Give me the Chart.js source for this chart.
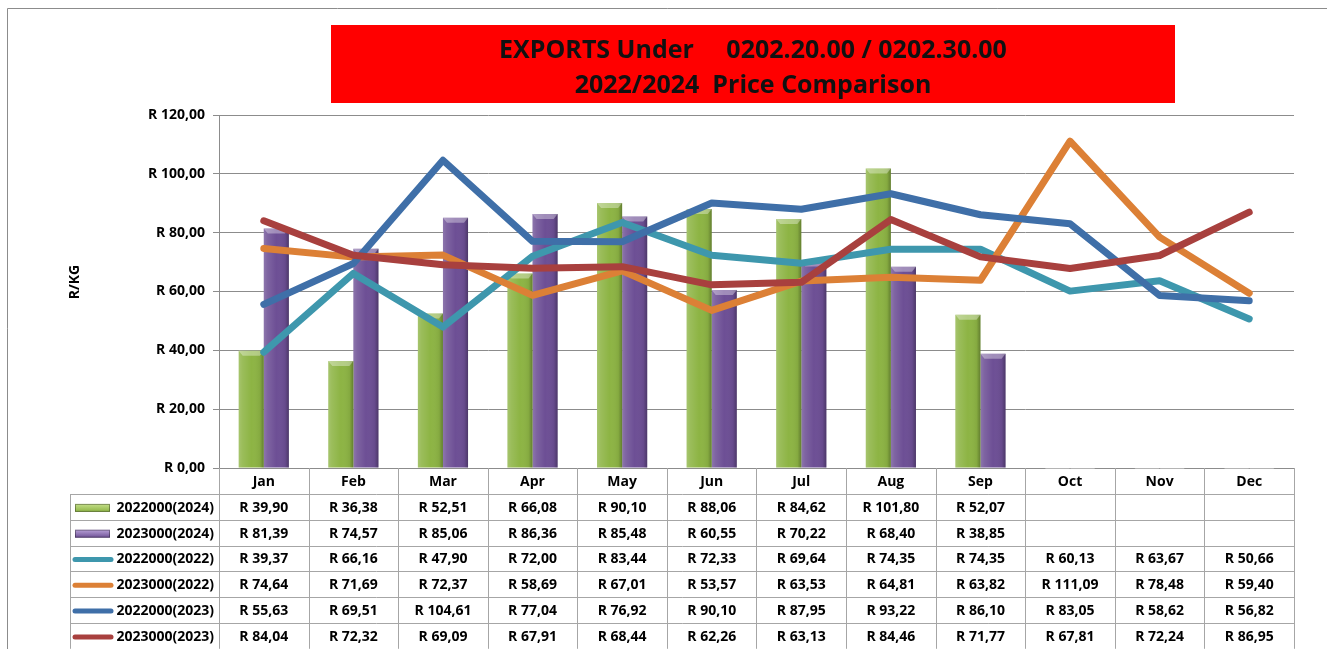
<!DOCTYPE html>
<html>
<head>
<meta charset="utf-8">
<script src="https://cdn.jsdelivr.net/npm/chart.js@4.4.0/dist/chart.umd.min.js"></script>
<style>
  html, body { margin: 0; padding: 0; background: #fff; }
  #wrap { width: 1327px; height: 649px; }
</style>
</head>
<body>
<div id="wrap"><canvas id="myChart" width="1327" height="649"></canvas></div>
<script>
// months along the bottom / table header
const months = ['Jan', 'Feb', 'Mar', 'Apr', 'May', 'Jun', 'Jul', 'Aug', 'Sep', 'Oct', 'Nov', 'Dec'];

// bar series (2024 only up to Sep)
const exp2022_2024 = [39.90, 36.38, 52.51, 66.08, 90.10, 88.06, 84.62, 101.80, 52.07, null, null, null];
const exp2023_2024 = [81.39, 74.57, 85.06, 86.36, 85.48, 60.55, 70.22, 68.40, 38.85, null, null, null];

// line series
const exp2022_2022 = [39.37, 66.16, 47.90, 72.00, 83.44, 72.33, 69.64, 74.35, 74.35, 60.13, 63.67, 50.66];
const exp2023_2022 = [74.64, 71.69, 72.37, 58.69, 67.01, 53.57, 63.53, 64.81, 63.82, 111.09, 78.48, 59.40];
const exp2022_2023 = [55.63, 69.51, 104.61, 77.04, 76.92, 90.10, 87.95, 93.22, 86.10, 83.05, 58.62, 56.82];
const exp2023_2023 = [84.04, 72.32, 69.09, 67.91, 68.44, 62.26, 63.13, 84.46, 71.77, 67.81, 72.24, 86.95];

const seriesNames = ['2022000(2024)', '2023000(2024)', '2022000(2022)', '2023000(2022)', '2022000(2023)', '2023000(2023)'];

const titleLines = ['EXPORTS Under     0202.20.00 / 0202.30.00', '2022/2024  Price Comparison'];
const yAxisTitle = 'R/KG';
const yMin = 0, yMax = 120, yStep = 20;

const FONT = "'Open Sans', 'Noto Sans', sans-serif";

function rand(v) {
  if (v === null || v === undefined) return '';
  return 'R ' + v.toFixed(2).replace('.', ',');
}

// frame, red title box, R/KG label
const framePlugin = {
  id: 'frame',
  beforeDraw(chart) {
    const ctx = chart.ctx;
    ctx.save();
    ctx.fillStyle = '#fff';
    ctx.fillRect(0, 0, chart.width, chart.height);
    ctx.strokeStyle = '#8c8c8c';
    ctx.lineWidth = 1;
    ctx.beginPath();
    ctx.moveTo(7.5, chart.height);
    ctx.lineTo(7.5, 8.5);
    ctx.lineTo(chart.width, 8.5);
    ctx.stroke();

    ctx.fillStyle = '#ff0000';
    ctx.fillRect(331, 25, 844, 78);
    ctx.fillStyle = '#111';
    ctx.font = 'bold 25px ' + FONT;
    ctx.textAlign = 'center';
    ctx.textBaseline = 'alphabetic';
    ctx.fillText(titleLines[0], 753, 58);
    ctx.fillText(titleLines[1], 753, 93);

    ctx.translate(75, 282);
    ctx.rotate(-Math.PI / 2);
    ctx.font = 'bold 14px ' + FONT;
    ctx.textBaseline = 'middle';
    ctx.fillStyle = '#000';
    ctx.fillText(yAxisTitle, 0, 0);
    ctx.restore();
  }
};

// 3d-ish shading on top of the bars
const barShade = {
  id: 'barShade',
  afterDatasetDraw(chart, args) {
    const meta = args.meta;
    if (meta.type !== 'bar') return;
    const ctx = chart.ctx;
    ctx.save();
    meta.data.forEach(el => {
      const p = el.getProps(['x', 'y', 'base', 'width'], true);
      if (p.y === null || isNaN(p.y) || isNaN(p.base)) return;
      const l = p.x - p.width / 2, r = p.x + p.width / 2;
      const g = ctx.createLinearGradient(l, 0, r, 0);
      g.addColorStop(0, 'rgba(255,255,255,0.22)');
      g.addColorStop(0.15, 'rgba(255,255,255,0.12)');
      g.addColorStop(0.5, 'rgba(255,255,255,0.0)');
      g.addColorStop(0.85, 'rgba(0,0,0,0.06)');
      g.addColorStop(1, 'rgba(0,0,0,0.3)');
      ctx.fillStyle = g;
      ctx.fillRect(l, p.y, p.width, p.base - p.y);
      ctx.beginPath();
      ctx.moveTo(l, p.y);
      ctx.lineTo(r, p.y);
      ctx.lineTo(r - 4, p.y + 5);
      ctx.lineTo(l + 4, p.y + 5);
      ctx.closePath();
      ctx.fillStyle = 'rgba(255,255,255,0.35)';
      ctx.fill();
    });
    ctx.restore();
  }
};

// data table under the plot
const dataTable = {
  id: 'dataTable',
  afterDraw(chart) {
    const ctx = chart.ctx;
    const xs = chart.scales.x;
    const area = chart.chartArea;
    const half = (xs.getPixelForValue(1) - xs.getPixelForValue(0)) / 2;
    const top = area.bottom;
    const headH = 26;
    const rowH = 25.8;
    const legL = 70.5;
    const nRows = chart.data.datasets.length;
    const bottom = top + headH + rowH * nRows;

    ctx.save();
    ctx.strokeStyle = '#a6a6a6';
    ctx.lineWidth = 1;
    ctx.beginPath();
    // vertical lines
    for (let i = 0; i <= months.length; i++) {
      const x = Math.round(xs.getPixelForValue(0) - half + i * 2 * half) + 0.5;
      ctx.moveTo(x, top);
      ctx.lineTo(x, bottom);
    }
    ctx.moveTo(legL, top + headH);
    ctx.lineTo(legL, bottom);
    // horizontal lines
    for (let r = 0; r <= nRows; r++) {
      const y = Math.round(top + headH + r * rowH) + 0.5;
      ctx.moveTo(legL, y);
      ctx.lineTo(area.right, y);
    }
    ctx.stroke();

    ctx.fillStyle = '#000';
    ctx.font = 'bold 14px ' + FONT;
    ctx.textAlign = 'center';
    ctx.textBaseline = 'middle';
    months.forEach((m, i) => {
      ctx.fillText(m, xs.getPixelForValue(i), top + headH / 2 + 1);
    });

    chart.data.datasets.forEach((ds, r) => {
      const cy = top + headH + r * rowH + rowH / 2 + 1;
      ctx.fillStyle = '#000';
      ctx.textAlign = 'center';
      ds.data.forEach((v, i) => {
        ctx.fillText(rand(v), xs.getPixelForValue(i), cy);
      });
      // legend key
      if (ds.type === 'bar') {
        const g = ctx.createLinearGradient(0, cy - 4, 0, cy + 4);
        g.addColorStop(0, ds.keyLight);
        g.addColorStop(1, ds.backgroundColor);
        ctx.fillStyle = g;
        ctx.fillRect(75, cy - 4, 35, 8);
        ctx.strokeStyle = 'rgba(0,0,0,0.35)';
        ctx.strokeRect(75.5, cy - 3.5, 34, 7);
      } else {
        ctx.strokeStyle = ds.borderColor;
        ctx.lineWidth = 5;
        ctx.lineCap = 'round';
        ctx.beginPath();
        ctx.moveTo(75, cy);
        ctx.lineTo(111, cy);
        ctx.stroke();
        ctx.lineWidth = 1;
      }
      ctx.fillStyle = '#000';
      ctx.textAlign = 'right';
      ctx.fillText(seriesNames[r], 214, cy);
    });
    ctx.restore();
  }
};

const lineDs = (label, data, color, order) => ({
  type: 'line', label, data, order,
  borderColor: color, backgroundColor: color,
  borderWidth: 7, pointRadius: 0, tension: 0,
  borderCapStyle: 'round', borderJoinStyle: 'round', fill: false
});

new Chart(document.getElementById('myChart'), {
  data: {
    labels: months,
    datasets: [
      { type: 'bar', label: seriesNames[0], data: exp2022_2024, backgroundColor: '#8db444', keyLight: '#c5e08a', order: 10 },
      { type: 'bar', label: seriesNames[1], data: exp2023_2024, backgroundColor: '#6d4f95', keyLight: '#b9a2d8', order: 11 },
      lineDs(seriesNames[2], exp2022_2022, '#3e97ad', 4),
      lineDs(seriesNames[3], exp2023_2022, '#dc8036', 3),
      lineDs(seriesNames[4], exp2022_2023, '#3f6fa8', 2),
      lineDs(seriesNames[5], exp2023_2023, '#a8403e', 1)
    ]
  },
  options: {
    responsive: false,
    animation: false,
    devicePixelRatio: 1,
    layout: { padding: { top: 115, right: 33, bottom: 181, left: 0 } },
    datasets: { bar: { categoryPercentage: 0.56, barPercentage: 1.0 } },
    plugins: { legend: { display: false }, tooltip: { enabled: false }, title: { display: false } },
    scales: {
      x: { display: false, offset: true },
      y: {
        min: yMin, max: yMax,
        afterFit(scale) { scale.width = 219; },
        border: { display: true, color: '#8c8c8c' },
        grid: { color: '#8c8c8c', tickLength: 6, drawTicks: true },
        ticks: {
          stepSize: yStep, padding: 8, color: '#000',
          font: { family: FONT, size: 14, weight: 'bold' },
          callback: v => 'R ' + v.toFixed(2).replace('.', ',')
        }
      }
    }
  },
  plugins: [framePlugin, barShade, dataTable]
});
</script>
</body>
</html>
